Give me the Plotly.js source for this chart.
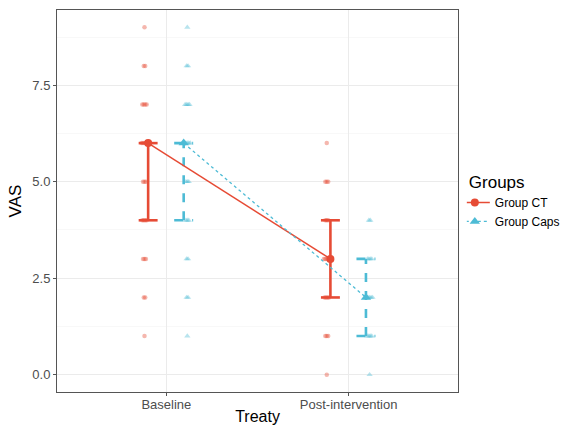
<!DOCTYPE html>
<html>
<head>
<meta charset="utf-8">
<script src="https://cdn.plot.ly/plotly-3.0.1.min.js"></script>
<style>body{margin:0;background:#fff}#chart{width:571px;height:425px}</style>
</head>
<body>
<div id="chart"></div>
<script>
// Categories and groups
const timepoints = ["Baseline", "Post-intervention"];
const groups = ["Group CT", "Group Caps"];

// Raw observations (VAS values), estimated from point density
const ctBaseline   = [9, 8, 8, 7, 7, 7, 7, 6, 6, 6, 6, 6, 5, 5, 5, 4, 4, 4, 4, 3, 3, 3, 2, 2, 1];
const capsBaseline = [9, 8, 8, 7, 7, 7, 7, 6, 6, 6, 6, 6, 5, 5, 5, 4, 4, 4, 3, 3, 2, 2, 1];
const ctPost       = [6, 5, 5, 5, 4, 4, 4, 3, 3, 3, 3, 3, 2, 2, 2, 2, 1, 1, 1, 0];
const capsPost     = [4, 4, 3, 3, 3, 3, 2, 2, 2, 2, 2, 1, 1, 1, 1, 0];

// Summary (centre and interval) per group, per timepoint
const ctCenter   = [6, 3];
const ctLow      = [4, 2];
const ctHigh     = [6, 4];
const capsCenter = [6, 2];
const capsLow    = [4, 1];
const capsHigh   = [6, 3];

const RED = "#E64B35", BLUE = "#4DBBD5";

function rawTrace(vals, tIdx, off, color, symbol, size) {
  const x = [], y = [];
  const counts = {};
  vals.forEach(v => counts[v] = (counts[v] || 0) + 1);
  const seen = {};
  vals.forEach(v => {
    const n = counts[v]; const k = (seen[v] = (seen[v] || 0) + 1) - 1;
    x.push(tIdx + 1 + off + (k - (n - 1) / 2) * 0.008);
    y.push(v);
  });
  return {x, y, type: "scatter", mode: "markers", showlegend: false, hoverinfo: "skip",
    marker: {color, symbol, size, opacity: 0.4, line: {width: 0}}};
}

function barTrace(lo, hi, off, color, dash) {
  const x = [], y = [], w = 0.052;
  lo.forEach((l, i) => {
    const cx = i + 1 + off, h = hi[i];
    x.push(cx, cx, null, cx - w, cx + w, null, cx - w, cx + w, null);
    y.push(l, h, null, l, l, null, h, h, null);
  });
  return {x, y, type: "scatter", mode: "lines", showlegend: false, hoverinfo: "skip",
    line: {color, width: 2.6, dash}};
}

const traces = [];
[0, 1].forEach(t => {
  traces.push(rawTrace(t === 0 ? ctBaseline : ctPost, t, -0.12, RED, "circle", 4.5));
  traces.push(rawTrace(t === 0 ? capsBaseline : capsPost, t, 0.115, BLUE, "triangle-up", 5.5));
});
traces.push(barTrace(ctLow, ctHigh, -0.1, RED, "solid"));
traces.push(barTrace(capsLow, capsHigh, 0.095, BLUE, "dash"));
traces.push({x: timepoints.map((_, i) => i + 1 - 0.1), y: ctCenter, type: "scatter", mode: "lines+markers",
  name: groups[0], line: {color: RED, width: 1.5}, marker: {color: RED, symbol: "circle", size: 8}});
traces.push({x: timepoints.map((_, i) => i + 1 + 0.095), y: capsCenter, type: "scatter", mode: "lines+markers",
  name: groups[1], line: {color: BLUE, width: 1.3, dash: "dot"}, marker: {color: BLUE, symbol: "triangle-up", size: 9}});

const layout = {
  width: 571, height: 425,
  margin: {l: 57, r: 113, t: 10, b: 33, autoexpand: false},
  paper_bgcolor: "#fff", plot_bgcolor: "#fff",
  font: {family: "Liberation Sans, Arial, sans-serif", color: "#4d4d4d", size: 12},
  xaxis: {
    range: [0.4, 2.6], tickvals: [1, 2], ticktext: timepoints,
    showgrid: true, gridcolor: "#ebebeb", gridwidth: 1, zeroline: false,
    showline: true, mirror: true, linecolor: "#555", linewidth: 1,
    ticks: "outside", ticklen: 3, tickcolor: "#555",
    tickfont: {size: 13, color: "#4d4d4d"}, ticklabelstandoff: -3,
    title: {text: "Treaty", font: {size: 16, color: "#000"}, standoff: 0}
  },
  yaxis: {
    range: [-0.45, 9.45], tickvals: [0, 2.5, 5, 7.5], ticktext: ["0.0", "2.5", "5.0", "7.5"],
    showgrid: true, gridcolor: "#ebebeb", gridwidth: 1, zeroline: false,
    minor: {tickvals: [1.25, 3.75, 6.25, 8.75], showgrid: true, gridcolor: "#f3f3f3", gridwidth: 0.6, ticks: ""},
    showline: true, mirror: true, linecolor: "#555", linewidth: 1,
    ticks: "outside", ticklen: 3, tickcolor: "#555",
    tickfont: {size: 13, color: "#4d4d4d"},
    title: {text: "VAS", font: {size: 17, color: "#000"}, standoff: 6}
  },
  legend: {
    x: 1.022, xanchor: "left", y: 0.592, yanchor: "top",
    title: {text: "Groups", font: {size: 17, color: "#000"}},
    font: {size: 12, color: "#000"}, itemwidth: 30, tracegroupgap: 0,
    indentation: -12,
    bgcolor: "rgba(0,0,0,0)"
  },
  showlegend: true
};

Plotly.newPlot("chart", traces, layout, {displayModeBar: false, staticPlot: true});
</script>
</body>
</html>
